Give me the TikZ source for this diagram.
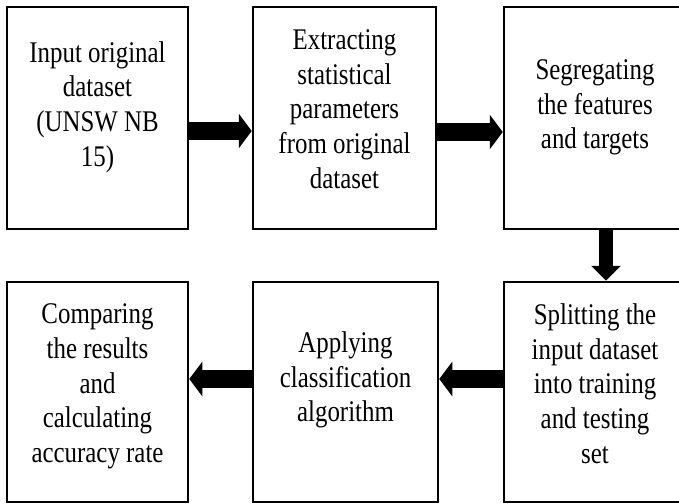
\documentclass[tikz,border=0pt]{standalone}
\usepackage{fontspec}
\setmainfont{Liberation Serif}
\usetikzlibrary{arrows.meta}
\begin{document}
\begin{tikzpicture}[x=1pt,y=-1pt,
  stage/.style={draw=black, line width=2.5pt, inner sep=0pt},
  txt/.style={font=\fontsize{30}{34.7}\selectfont, align=center, xscale=0.83, inner sep=0pt},
  harrow/.style={line width=18pt, -{Triangle[length=13pt,width=34pt]}},
  varrow/.style={line width=14pt, -{Triangle[length=15pt,width=29pt]}}]
\useasboundingbox (0,0) rectangle (679,503);
\clip (0,0) rectangle (679,503);
\fill[white] (0,0) rectangle (679,503);

% process boxes
\node[stage, minimum width=181pt, minimum height=222pt] (b1) at (97.5,118) {};
\node[stage, minimum width=183pt, minimum height=222pt] (b2) at (344.5,118) {};
\node[stage, minimum width=182pt, minimum height=222pt] (b3) at (595,118) {};
\node[stage, minimum width=181pt, minimum height=220pt] (b4) at (97.5,392) {};
\node[stage, minimum width=185pt, minimum height=220pt] (b5) at (345.5,392) {};
\node[stage, minimum width=182pt, minimum height=220pt] (b6) at (595,392) {};

% box texts
\node[txt] (t1) at (97.5,107) {Input original\\dataset\\(UNSW NB\\15)};
\node[txt] (t2) at (344.5,109) {Extracting\\statistical\\parameters\\from original\\dataset};
\node[txt] (t3) at (595,107.5) {Segregating\\the features\\and targets};
\node[txt] (t4) at (97.5,386.5) {Comparing\\the results\\and\\calculating\\accuracy rate};
\node[txt] (t5) at (345.5,380) {Applying\\classification\\algorithm};
\node[txt] (t6) at (595,383.5) {Splitting the\\input dataset\\into training\\and testing\\set};

% flow arrows
\draw[harrow] (b1.east |- 0,131) -- (b2.west |- 0,131);
\draw[harrow] (b2.east |- 0,132) -- (b3.west |- 0,132);
\draw[varrow] (b3.south -| 606,0) -- (b6.north -| 606,0);
\draw[harrow] (b6.west |- 0,379) -- (b5.east |- 0,379);
\draw[harrow] (b5.west |- 0,379) -- (b4.east |- 0,379);
\end{tikzpicture}
\end{document}
